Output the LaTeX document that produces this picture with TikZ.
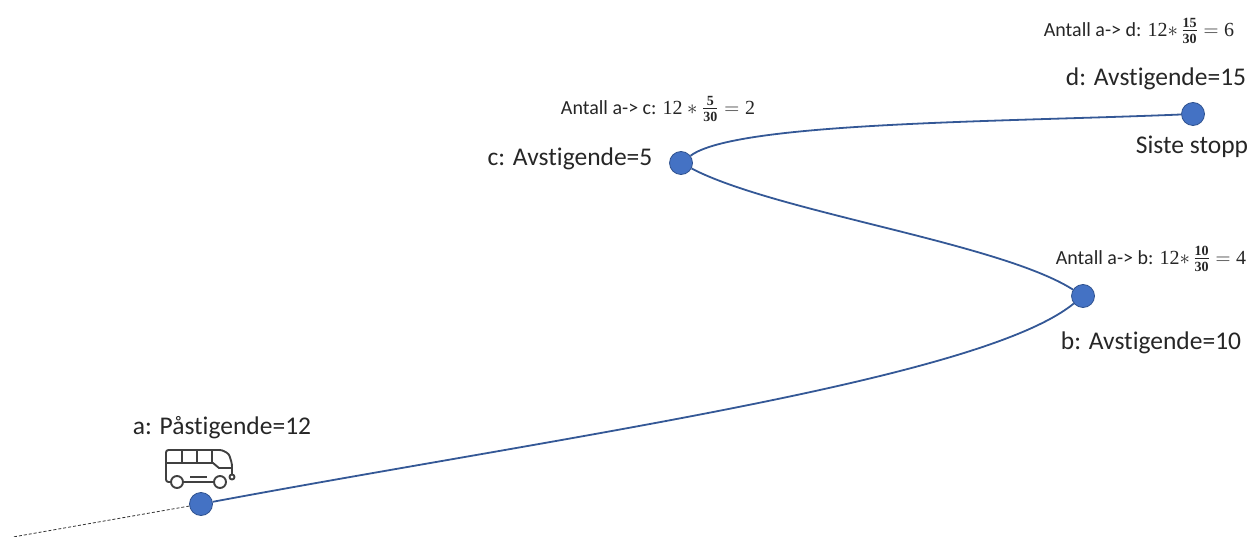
\documentclass[tikz,border=0pt]{standalone}
\usepackage{amsmath}
\usepackage{fontspec}
\setmainfont{Carlito}[Ligatures=NoCommon]
\newfontfamily\mathnums{Liberation Serif}
\newcommand{\num}[1]{\text{\mathnums #1}}
\newcommand{\smallfrac}[2]{\frac{\text{\mathnums\bfseries #1}}{\text{\mathnums\bfseries #2}}}
\usetikzlibrary{positioning}
\definecolor{stopblue}{RGB}{68,114,196}
\definecolor{stopedge}{RGB}{47,82,143}
\definecolor{linkblue}{RGB}{52,88,150}
\definecolor{icongray}{RGB}{64,64,64}

\begin{document}
\begin{tikzpicture}[x=1pt,y=-1pt,
                    n/.style={circle,fill=stopblue,draw=stopedge,line width=0.8pt,minimum size=23pt,inner sep=0pt},
                    stoplabel/.style={font=\fontsize{25.5}{28}\selectfont,text=black!85,inner sep=0pt},
                    countlabel/.style={font=\fontsize{20}{24}\selectfont,text=black!85,inner sep=0pt},
                    link/.style={linkblue,line width=1.8pt},
                    icon/.style={icongray,line width=1.9pt,line join=round}]
  \useasboundingbox (0,0) rectangle (1252,537);
  % stops
  \node[n] (a) at (201,504) {};
  \node[n] (b) at (1083,296) {};
  \node[n] (c) at (681,163) {};
  \node[n] (d) at (1193,114) {};
  \coordinate (prev) at (13,537);
  % route
  \draw[black!80,densely dashed,line width=0.8pt] (a)--(prev);
  \draw[link] (a) .. controls (560,437) and (980,380) .. (b);
  \draw[link] (b) .. controls (1000,243) and (775,212) .. (c);
  \draw[link] (c) .. controls (735,122) and (1000,122) .. (d);
  % stop labels
  \node[stoplabel] (la) at (222,428) {a: Påstigende=12};
  \node[stoplabel] (lb) at (1151,343) {b: Avstigende=10};
  \node[stoplabel] (lc) at (570,159) {c: Avstigende=5};
  \node[stoplabel] (ld) at (1156,79) {d: Avstigende=15};
  \node[stoplabel] (ls) at (1192,147) {Siste stopp};
  % counts
  \node[countlabel] (nb) at (1151,259) {Antall a-> b: $\num{12}{*}\,\smallfrac{10}{30}=\num{4}$};
  \node[countlabel] (nc) at (658,109) {Antall a-> c: $\num{12}*\smallfrac{5}{30}=\num{2}$};
  \node[countlabel] (nd) at (1139,31) {Antall a-> d: $\num{12}{*}\,\smallfrac{15}{30}=\num{6}$};
  % bus
  \draw[icon,rounded corners=2.5pt] (171,482)--(166,482)--(166,450)--(222,450)--(229,454)--(232,464)--(232,474);
  \draw[icon] (166,463)--(213,463)--(219,468)--(232,468);
  \draw[icon] (182,450)--(182,463) (197,450)--(197,463) (212,450)--(212,463);
  \draw[icon] (183,482)--(214,482) (190,477)--(207,477);
  \draw[icon] (177,482) circle (6) (220,482) circle (6) (232,477) circle (2.5);
\end{tikzpicture}
\end{document}
